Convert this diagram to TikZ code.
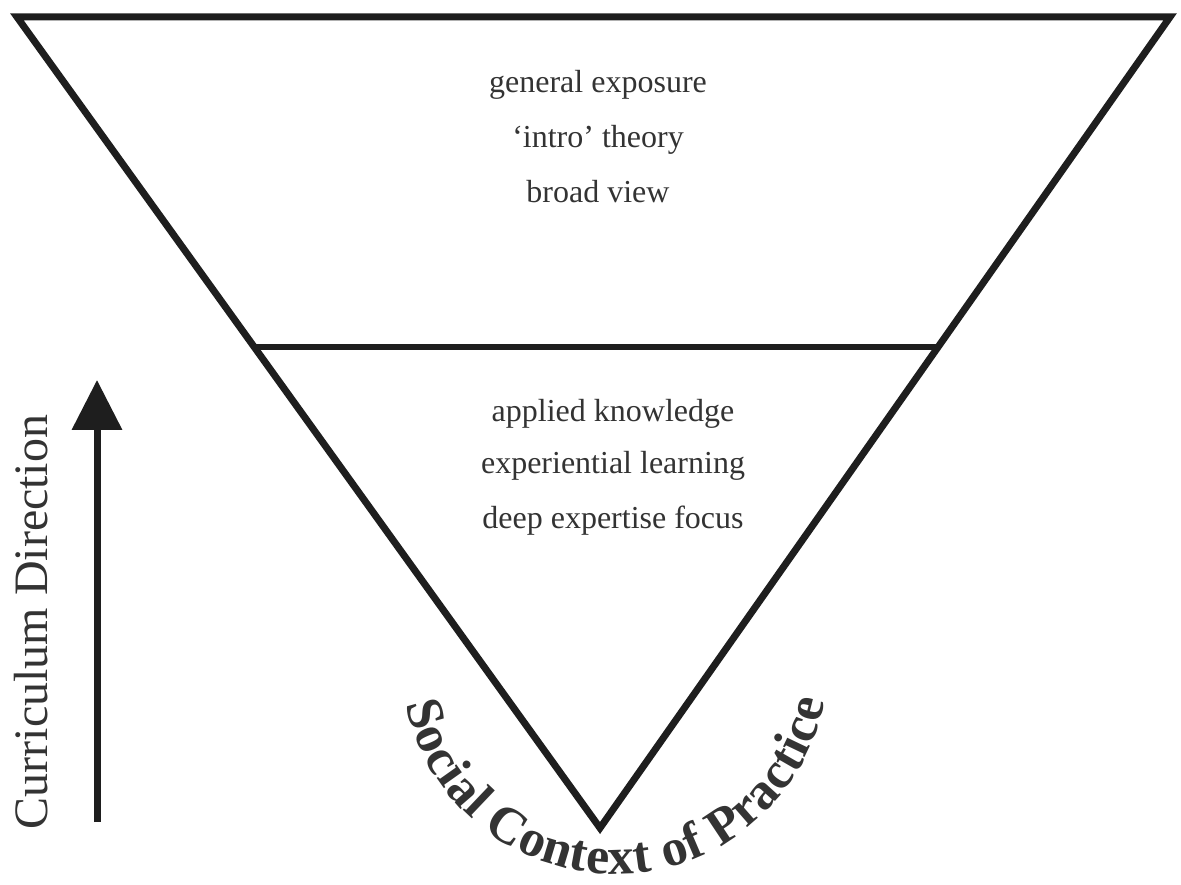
\documentclass[tikz,border=0pt]{standalone}
\usepackage{fontspec}
\setmainfont{Liberation Serif}
\usetikzlibrary{arrows.meta,calc,decorations.text}

\definecolor{ink}{HTML}{1E1E1E}
\definecolor{txt}{HTML}{333333}

\tikzset{
  funnel/.style={draw=ink, line width=3.5pt, line join=miter},
  divider/.style={draw=ink, line width=2.6pt},
  levelnote/.style={text=txt, font=\fontsize{16pt}{19pt}\selectfont, anchor=base, inner sep=0pt},
  sidelabel/.style={text=txt, font=\fontsize{24pt}{28pt}\selectfont, anchor=base, inner sep=0pt, rotate=90},
  direction/.style={draw=ink, line width=3.5pt, -{Triangle[length=25pt,width=24.5pt]}}
}

\begin{document}
\begin{tikzpicture}[x=0.5pt,y=0.5pt]
  \useasboundingbox (0,0) rectangle (1181,884);

  % corners of the inverted triangle
  \coordinate (tl) at (17,867);
  \coordinate (tr) at (1170,867);
  \coordinate (apex) at (600,56);
  \draw[funnel] (tl) -- (tr) -- (apex) -- cycle;

  % dividing line between the two levels
  \coordinate (dl) at ($(tl)!0.407!(apex)$);
  \coordinate (dr) at ($(tr)!0.407!(apex)$);
  \draw[divider] (dl) -- (dr);

  % upper level
  \node[levelnote] (g1) at (598,791) {general exposure};
  \node[levelnote] (g2) at (598,736) {‘intro’ theory};
  \node[levelnote] (g3) at (598,681) {broad view};

  % lower level
  \node[levelnote] (a1) at (613,462) {applied knowledge};
  \node[levelnote] (a2) at (613,411) {experiential learning};
  \node[levelnote] (a3) at (613,356) {deep expertise focus};

  % curriculum direction arrow and its label
  \coordinate (arrowfoot) at (97,62);
  \coordinate (arrowtip) at (97,504);
  \draw[direction] (arrowfoot) -- (arrowtip);
  \node[sidelabel] (cd) at (47,262) {Curriculum Direction};

  % curved caption below the apex
  \coordinate (ctr) at (615,224);
  \path[decorate, decoration={text along path, text align=fit to path,
      text={|\color{txt}\fontsize{26pt}{31pt}\selectfont\bfseries|Social Context of Practice}}]
    ($(ctr)+(192:107pt)$) arc[start angle=192, end angle=349, radius=107pt];
\end{tikzpicture}
\end{document}
